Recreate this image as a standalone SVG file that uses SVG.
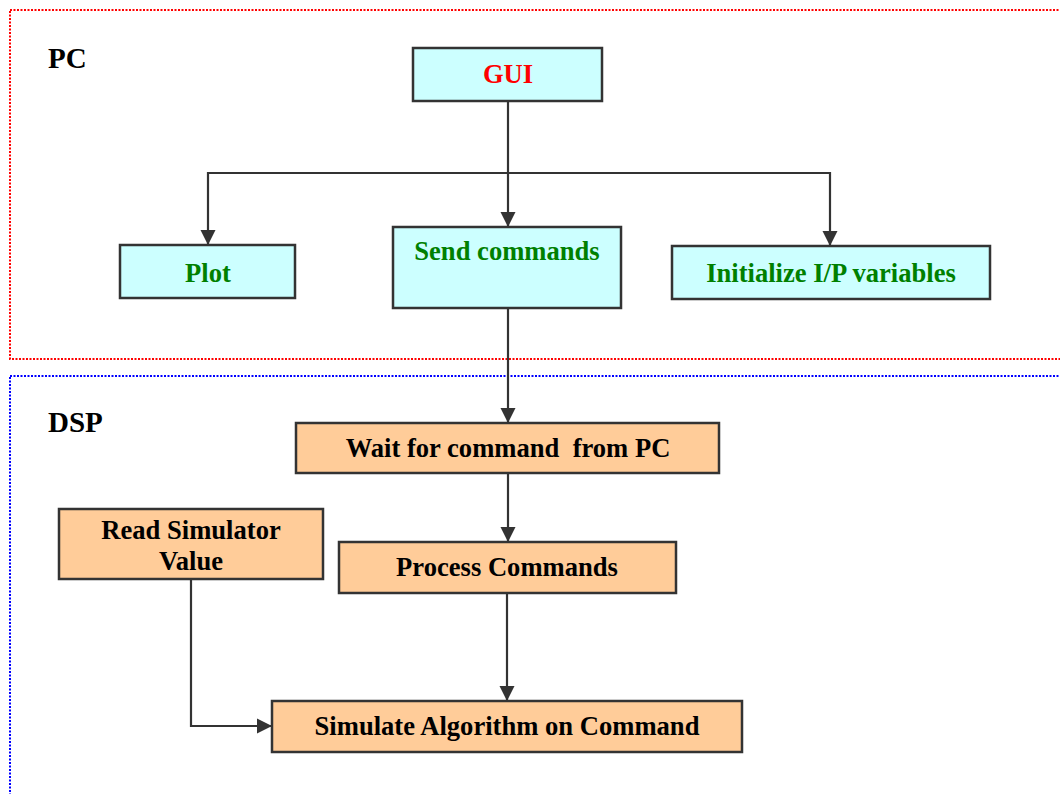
<svg xmlns="http://www.w3.org/2000/svg" width="1060" height="794" viewBox="0 0 1060 794">
<defs>
<marker id="ah" markerUnits="userSpaceOnUse" markerWidth="16" markerHeight="16" viewBox="0 0 16 16" refX="15" refY="8" orient="auto">
<path d="M0,0.5 L15,8 L0,15.5 Z" fill="#333333"/>
</marker>
<style>
.pc{fill:#CCFFFF;stroke:#333333;stroke-width:2.5}
.dsp{fill:#FFCC99;stroke:#333333;stroke-width:2.5}
.t{font-family:"Liberation Serif","Times New Roman",serif;font-weight:bold;font-size:26.6px;text-anchor:middle}
.g{fill:#008000}
.k{fill:#000000}
.lbl{font-family:"Liberation Serif","Times New Roman",serif;font-weight:bold;font-size:29px;fill:#000}
.c{fill:none;stroke:#333333;stroke-width:2.2}
</style>
</defs>
<rect width="1060" height="794" fill="#ffffff"/>
<g id="zone-pc">
<rect x="10" y="10" width="1070" height="349" fill="none" stroke="#FF0000" stroke-width="2" stroke-dasharray="2,1.5"/>
<text class="lbl" x="48" y="68">PC</text>
</g>
<g id="zone-dsp">
<rect x="10" y="376" width="1070" height="440" fill="none" stroke="#0000FF" stroke-width="2" stroke-dasharray="2,1.5"/>
<text class="lbl" x="48" y="432">DSP</text>
</g>
<g id="connectors">
<path class="c" d="M508,101 L508,173"/>
<path class="c" d="M508,173 L508,227" marker-end="url(#ah)"/>
<path class="c" d="M508,173 L208,173 L208,245" marker-end="url(#ah)"/>
<path class="c" d="M508,173 L830,173 L830,246" marker-end="url(#ah)"/>
<path class="c" d="M508,308 L508,423" marker-end="url(#ah)"/>
<path class="c" d="M508,473 L508,542" marker-end="url(#ah)"/>
<path class="c" d="M507,593 L507,701" marker-end="url(#ah)"/>
<path class="c" d="M191,579 L191,726 L272,726" marker-end="url(#ah)"/>
</g>
<g id="gui">
<rect class="pc" x="413" y="48" width="189" height="53"/>
<text class="t" x="508" y="83" fill="#FF0000">GUI</text>
</g>
<g id="plot">
<rect class="pc" x="120" y="245" width="175" height="53"/>
<text class="t g" x="208" y="282">Plot</text>
</g>
<g id="send-commands">
<rect class="pc" x="393" y="227" width="228" height="81"/>
<text class="t g" x="507" y="260">Send commands</text>
</g>
<g id="initialize">
<rect class="pc" x="672" y="246" width="318" height="53"/>
<text class="t g" x="831" y="282">Initialize I/P variables</text>
</g>
<g id="wait">
<rect class="dsp" x="296" y="423" width="423" height="50"/>
<text class="t k" x="508" y="457" xml:space="preserve">Wait for command  from PC</text>
</g>
<g id="process">
<rect class="dsp" x="339" y="542" width="337" height="51"/>
<text class="t k" x="507" y="576">Process Commands</text>
</g>
<g id="read-simulator">
<rect class="dsp" x="59" y="509" width="264" height="70"/>
<text class="t k" x="191" y="539">Read Simulator</text>
<text class="t k" x="191" y="570">Value</text>
</g>
<g id="simulate">
<rect class="dsp" x="272" y="701" width="470" height="51"/>
<text class="t k" x="507" y="735">Simulate Algorithm on Command</text>
</g>
</svg>
